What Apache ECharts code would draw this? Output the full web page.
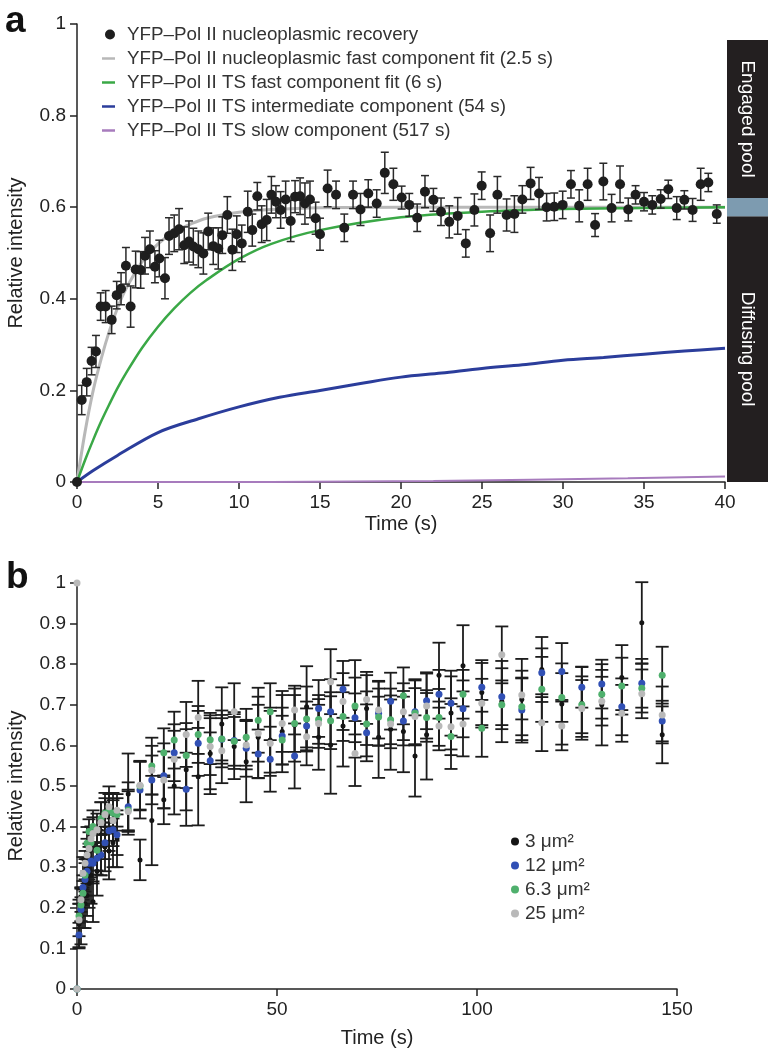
<!DOCTYPE html>
<html><head><meta charset="utf-8">
<script src="https://cdn.jsdelivr.net/npm/echarts@6/dist/echarts.min.js"></script>
<style>html,body{margin:0;padding:0;background:#fff}#c{width:770px;height:1050px}</style>
</head><body><div id="c"></div>
<script>
// ---------- Panel a data ----------
const aTime = [0, 0.29, 0.6, 0.9, 1.17, 1.46, 1.77, 2.14, 2.45, 2.72,
  3.02, 3.31, 3.62, 3.93, 4.2, 4.5, 4.81, 5.08, 5.43, 5.68,
  6.0, 6.3, 6.62, 6.91, 7.18, 7.49, 7.8, 8.1, 8.41, 8.72,
  8.97, 9.28, 9.59, 9.86, 10.17, 10.54, 10.82, 11.13, 11.4, 11.71,
  12.0, 12.28, 12.57, 12.88, 13.19, 13.46, 13.77, 14.07, 14.38, 14.73,
  15.0, 15.47, 15.99, 16.5, 17.04, 17.5, 17.98, 18.5, 19.0, 19.53,
  20.04, 20.51, 21.0, 21.48, 22.0, 22.47, 22.98, 23.5, 24.0, 24.53,
  24.98, 25.5, 25.95, 26.52, 27.0, 27.49, 28.0, 28.52, 28.99, 29.46,
  29.98, 30.49, 31.0, 31.52, 31.98, 32.49, 33.0, 33.52, 34.03, 34.48,
  35.0, 35.51, 36.03, 36.5, 37.02, 37.49, 38.0, 38.5, 38.97, 39.49];
const aValue = [0, 0.179, 0.218, 0.264, 0.285, 0.383, 0.383, 0.354, 0.408, 0.422,
  0.472, 0.383, 0.464, 0.463, 0.494, 0.508, 0.47, 0.488, 0.445, 0.537,
  0.543, 0.552, 0.517, 0.525, 0.514, 0.508, 0.499, 0.547, 0.515, 0.51,
  0.539, 0.583, 0.507, 0.541, 0.521, 0.59, 0.55, 0.624, 0.563, 0.572,
  0.627, 0.612, 0.594, 0.617, 0.57, 0.623, 0.624, 0.608, 0.617, 0.576,
  0.541, 0.641, 0.627, 0.555, 0.627, 0.595, 0.63, 0.608, 0.675, 0.65,
  0.621, 0.605, 0.577, 0.634, 0.616, 0.59, 0.568, 0.581, 0.521, 0.594,
  0.647, 0.543, 0.627, 0.583, 0.585, 0.617, 0.652, 0.63, 0.6, 0.601,
  0.605, 0.65, 0.603, 0.65, 0.561, 0.656, 0.598, 0.65, 0.595, 0.627,
  0.612, 0.605, 0.618, 0.639, 0.598, 0.616, 0.594, 0.65, 0.654, 0.585];
const aErr = [0, 0.032, 0.03, 0.03, 0.035, 0.03, 0.035, 0.03, 0.03, 0.035,
  0.04, 0.045, 0.04, 0.04, 0.04, 0.04, 0.035, 0.04, 0.045, 0.04,
  0.04, 0.045, 0.04, 0.045, 0.04, 0.04, 0.045, 0.04, 0.04, 0.045,
  0.04, 0.04, 0.045, 0.04, 0.04, 0.045, 0.035, 0.03, 0.04, 0.045,
  0.04, 0.035, 0.04, 0.04, 0.045, 0.035, 0.04, 0.045, 0.04, 0.035,
  0.035, 0.04, 0.03, 0.03, 0.03, 0.035, 0.03, 0.03, 0.045, 0.035,
  0.025, 0.025, 0.03, 0.035, 0.025, 0.03, 0.035, 0.04, 0.03, 0.035,
  0.03, 0.04, 0.04, 0.035, 0.04, 0.03, 0.035, 0.035, 0.03, 0.03,
  0.03, 0.03, 0.035, 0.035, 0.025, 0.04, 0.03, 0.04, 0.025, 0.02,
  0.02, 0.02, 0.02, 0.02, 0.025, 0.02, 0.025, 0.035, 0.02, 0.02];
const fitTime  = [0, 0.5, 1, 1.5, 2, 2.5, 3, 4, 5, 6, 7, 8, 10, 12, 15, 20, 25, 30, 35, 40];
const grayFit  = [0, 0.11, 0.2, 0.27, 0.33, 0.38, 0.42, 0.48, 0.52, 0.546, 0.563, 0.576, 0.589, 0.595, 0.599, 0.6, 0.6, 0.6, 0.6, 0.6];
const greenFit = [0, 0.048, 0.092, 0.133, 0.17, 0.205, 0.236, 0.292, 0.339, 0.379, 0.413, 0.441, 0.487, 0.52, 0.55, 0.578, 0.59, 0.596, 0.598, 0.6];
const blueTime = [0, 1, 2.5, 5, 7.5, 10, 12.5, 15, 17.5, 20, 22.5, 25, 27.5, 30, 32.5, 35, 37.5, 40];
const blueFit  = [0, 0.025, 0.058, 0.108, 0.138, 0.164, 0.185, 0.2, 0.215, 0.229, 0.238, 0.248, 0.256, 0.266, 0.272, 0.279, 0.286, 0.292];
const purpleTime = [0, 12, 22, 28, 34, 40];
const purpleFit  = [0, 0, 0.002, 0.005, 0.008, 0.012];
const aNames = ['YFP\u2013Pol II nucleoplasmic recovery',
  'YFP\u2013Pol II nucleoplasmic fast component fit (2.5 s)',
  'YFP\u2013Pol II TS fast component fit (6 s)',
  'YFP\u2013Pol II TS intermediate component (54 s)',
  'YFP\u2013Pol II TS slow component (517 s)'];
const poolNames  = ['Diffusing pool', '', 'Engaged pool'];
const poolBounds = [0, 0.58, 0.62, 0.965];

// ---------- Panel b data ----------
const bTime = [0, 0.5, 1, 1.5, 2, 2.5, 3, 3.5, 4, 5,
  6, 7, 8, 9, 10, 12.8, 15.75, 18.7, 21.7, 24.3,
  27.3, 30.3, 33.3, 36.2, 39.3, 42.3, 45.3, 48.3, 51.3, 54.4,
  57.4, 60.4, 63.4, 66.5, 69.5, 72.4, 75.4, 78.4, 81.6, 84.5,
  87.4, 90.5, 93.5, 96.5, 101.2, 106.2, 111.2, 116.2, 121.2, 126.2,
  131.2, 136.2, 141.2, 146.3];
const b3 = [0, 0.16, 0.18, 0.2, 0.21, 0.23, 0.26, 0.28, 0.215, 0.29,
  0.33, 0.35, 0.34, 0.36, 0.37, 0.48, 0.318, 0.415, 0.466, 0.5,
  0.54, 0.523, 0.58, 0.653, 0.597, 0.56, 0.62, 0.613, 0.634, 0.65,
  0.695, 0.62, 0.601, 0.648, 0.69, 0.691, 0.62, 0.64, 0.634, 0.574,
  0.626, 0.773, 0.68, 0.796, 0.73, 0.708, 0.713, 0.787, 0.702, 0.704,
  0.7, 0.767, 0.902, 0.626];
const b12 = [0, 0.133, 0.196, 0.25, 0.27, 0.29, 0.31, 0.315, 0.31, 0.322,
  0.33, 0.36, 0.39, 0.392, 0.38, 0.449, 0.49, 0.515, 0.525, 0.582,
  0.492, 0.605, 0.562, 0.615, 0.612, 0.593, 0.579, 0.566, 0.623, 0.574,
  0.648, 0.691, 0.683, 0.738, 0.668, 0.631, 0.679, 0.709, 0.66, 0.683,
  0.71, 0.726, 0.704, 0.69, 0.743, 0.72, 0.687, 0.779, 0.782, 0.743,
  0.751, 0.695, 0.753, 0.66];
const b63 = [0, 0.18, 0.207, 0.236, 0.28, 0.359, 0.388, 0.36, 0.4, 0.342,
  0.42, 0.433, 0.44, 0.433, 0.43, 0.441, 0.5, 0.549, 0.582, 0.613,
  0.575, 0.627, 0.614, 0.616, 0.61, 0.62, 0.662, 0.683, 0.613, 0.654,
  0.665, 0.664, 0.661, 0.671, 0.697, 0.653, 0.67, 0.663, 0.722, 0.68,
  0.669, 0.669, 0.622, 0.726, 0.642, 0.7, 0.695, 0.738, 0.718, 0.7,
  0.726, 0.746, 0.741, 0.773];
const b25 = [0, 0.17, 0.22, 0.285, 0.31, 0.33, 0.346, 0.37, 0.383, 0.392,
  0.41, 0.43, 0.449, 0.415, 0.44, 0.437, 0.502, 0.539, 0.515, 0.566,
  0.627, 0.669, 0.597, 0.587, 0.683, 0.601, 0.63, 0.605, 0.654, 0.687,
  0.621, 0.654, 0.757, 0.708, 0.58, 0.713, 0.687, 0.653, 0.683, 0.671,
  0.697, 0.648, 0.646, 0.653, 0.704, 0.823, 0.724, 0.656, 0.648, 0.691,
  0.709, 0.679, 0.727, 0.675];
const b25Prebleach = [0, 1.0];
const b3Err = [0, 0.06, 0.07, 0.05, 0.06, 0.05, 0.06, 0.07, 0.05, 0.06,
  0.05, 0.06, 0.07, 0.06, 0.07, 0.1, 0.05, 0.11, 0.06, 0.07,
  0.1, 0.12, 0.1, 0.09, 0.08, 0.1, 0.1, 0.08, 0.1, 0.09,
  0.1, 0.08, 0.12, 0.1, 0.12, 0.09, 0.1, 0.1, 0.1, 0.1,
  0.11, 0.08, 0.09, 0.1, 0.08, 0.1, 0.1, 0.08, 0.1, 0.09,
  0.1, 0.08, 0.1, 0.07];
const b12Err = [0, 0.03, 0.03, 0.03, 0.04, 0.03, 0.04, 0.04, 0.05, 0.04,
  0.05, 0.04, 0.05, 0.04, 0.05, 0.06, 0.07, 0.06, 0.08, 0.07,
  0.09, 0.08, 0.07, 0.06, 0.07, 0.07, 0.06, 0.08, 0.07, 0.08,
  0.06, 0.07, 0.08, 0.07, 0.06, 0.07, 0.08, 0.07, 0.06, 0.08,
  0.07, 0.06, 0.08, 0.07, 0.06, 0.07, 0.08, 0.06, 0.07, 0.05,
  0.06, 0.07, 0.06, 0.05];
const b63Err = [0, 0.03, 0.04, 0.03, 0.04, 0.04, 0.03, 0.04, 0.04, 0.05,
  0.04, 0.05, 0.04, 0.05, 0.04, 0.05, 0.06, 0.07, 0.06, 0.07,
  0.08, 0.07, 0.06, 0.07, 0.06, 0.07, 0.08, 0.07, 0.06, 0.07,
  0.08, 0.06, 0.07, 0.06, 0.07, 0.08, 0.07, 0.06, 0.07, 0.08,
  0.06, 0.07, 0.08, 0.06, 0.07, 0.06, 0.07, 0.08, 0.06, 0.07,
  0.06, 0.07, 0.06, 0.07];
const b25Err = [0, 0.04, 0.03, 0.04, 0.03, 0.04, 0.04, 0.03, 0.04, 0.04,
  0.05, 0.04, 0.05, 0.05, 0.04, 0.05, 0.06, 0.06, 0.07, 0.07,
  0.08, 0.09, 0.07, 0.08, 0.07, 0.06, 0.07, 0.08, 0.07, 0.06,
  0.07, 0.06, 0.08, 0.07, 0.08, 0.06, 0.07, 0.06, 0.07, 0.07,
  0.08, 0.06, 0.07, 0.08, 0.06, 0.07, 0.06, 0.07, 0.06, 0.07,
  0.06, 0.07, 0.06, 0.07];
const bNames = ['3 \u03bcm\u00b2', '12 \u03bcm\u00b2', '6.3 \u03bcm\u00b2', '25 \u03bcm\u00b2'];

// ---------- styles ----------
const FONT = 'Liberation Sans';
const INK = '#222';
const poolColors = ['#231f20', '#7d9bb0', '#231f20'];
const bColors = ['#151515', '#3150b5', '#4fb06d', '#b9b9b9'];

const zip = (xs, ys) => xs.map((x, i) => [x, ys[i]]);
const zip3 = (xs, ys, es) => xs.map((x, i) => [x, ys[i], es[i]]);

function errRender(cap, color, width) {
  return function (params, api) {
    const t = api.value(0), v = api.value(1), e = api.value(2);
    if (!e) return null;
    const hi = api.coord([t, v + e]), lo = api.coord([t, v - e]);
    const x = hi[0];
    const style = { stroke: color, lineWidth: width };
    return { type: 'group', children: [
      { type: 'line', shape: { x1: x, y1: hi[1], x2: x, y2: lo[1] }, style },
      { type: 'line', shape: { x1: x - cap / 2, y1: hi[1], x2: x + cap / 2, y2: hi[1] }, style },
      { type: 'line', shape: { x1: x - cap / 2, y1: lo[1], x2: x + cap / 2, y2: lo[1] }, style }
    ]};
  };
}

function poolRender(params, api) {
  const i = api.value(2);
  const lo = api.coord([0, api.value(0)]);
  const hi = api.coord([1, api.value(1)]);
  const children = [{ type: 'rect',
    shape: { x: lo[0], y: hi[1], width: hi[0] - lo[0], height: lo[1] - hi[1] },
    style: { fill: poolColors[i] } }];
  if (poolNames[i]) {
    children.push({ type: 'text', x: (lo[0] + hi[0]) / 2, y: (lo[1] + hi[1]) / 2,
      rotation: -Math.PI / 2,
      style: { text: poolNames[i], fill: '#fff', font: '19px "' + FONT + '"',
        align: 'center', verticalAlign: 'middle' } });
  }
  return { type: 'group', children };
}

const axisBase = {
  axisLine: { show: true, onZero: false, lineStyle: { color: INK, width: 1.5 } },
  axisTick: { show: true, inside: false, length: 7, lineStyle: { color: INK, width: 1.5 } },
  axisLabel: { color: INK, fontSize: 19, fontFamily: FONT, margin: 11 },
  splitLine: { show: false },
  nameLocation: 'middle',
  nameTextStyle: { color: INK, fontSize: 20, fontFamily: FONT }
};

const option = {
  animation: false,
  backgroundColor: '#fff',
  textStyle: { fontFamily: FONT },
  title: [
    { text: 'a', left: 0, top: -2, textStyle: { fontSize: 37, fontWeight: 'bold', color: '#111', fontFamily: FONT } },
    { text: 'b', left: 1, top: 554, textStyle: { fontSize: 37, fontWeight: 'bold', color: '#111', fontFamily: FONT } }
  ],
  grid: [
    { left: 77, top: 24, width: 648, height: 458, outerBoundsMode: 'none', containLabel: false },
    { left: 727, top: 24, width: 41, height: 458, outerBoundsMode: 'none', containLabel: false },
    { left: 77, top: 583, width: 600, height: 406, outerBoundsMode: 'none', containLabel: false }
  ],
  xAxis: [
    Object.assign({}, axisBase, { gridIndex: 0, type: 'value', min: 0, max: 40, interval: 5, name: 'Time (s)', nameGap: 32 }),
    { gridIndex: 1, type: 'value', min: 0, max: 1, show: false },
    Object.assign({}, axisBase, { gridIndex: 2, type: 'value', min: 0, max: 150, interval: 50, name: 'Time (s)', nameGap: 39 })
  ],
  yAxis: [
    Object.assign({}, axisBase, { gridIndex: 0, type: 'value', min: 0, max: 1, interval: 0.2, name: 'Relative intensity', nameGap: 51 }),
    { gridIndex: 1, type: 'value', min: 0, max: 1, show: false },
    Object.assign({}, axisBase, { gridIndex: 2, type: 'value', min: 0, max: 1, interval: 0.1, name: 'Relative intensity', nameGap: 51 })
  ],
  legend: [
    { data: [aNames[0]], left: 105, top: 25, orient: 'vertical', icon: 'circle',
      itemWidth: 10, itemHeight: 10, padding: 0,
      textStyle: { fontSize: 18.8, color: '#333', fontFamily: FONT, padding: [0, 0, 0, 7] } },
    { data: aNames.slice(1), left: 102, top: 49, orient: 'vertical', icon: 'rect',
      itemWidth: 13, itemHeight: 2.5, itemGap: 5, padding: 0,
      textStyle: { fontSize: 18.8, color: '#333', fontFamily: FONT, padding: [0, 0, 0, 7] } },
    { data: bNames, left: 511, top: 832, orient: 'vertical', icon: 'circle',
      itemWidth: 8, itemHeight: 8, itemGap: 5, padding: 0,
      textStyle: { fontSize: 19, color: '#333', fontFamily: FONT, padding: [0, 0, 0, 1] } }
  ],
  series: [
    { type: 'custom', xAxisIndex: 1, yAxisIndex: 1, silent: true, renderItem: poolRender,
      data: poolNames.map((n, i) => [poolBounds[i], poolBounds[i + 1], i]) },
    { type: 'line', name: aNames[1], xAxisIndex: 0, yAxisIndex: 0, data: zip(fitTime, grayFit),
      smooth: 0.35, showSymbol: false, clip: false, z: 1,
      lineStyle: { color: '#b8b8b8', width: 3 }, itemStyle: { color: '#b8b8b8' } },
    { type: 'line', name: aNames[2], xAxisIndex: 0, yAxisIndex: 0, data: zip(fitTime, greenFit),
      smooth: 0.35, showSymbol: false, clip: false, z: 1,
      lineStyle: { color: '#3aa846', width: 2.5 }, itemStyle: { color: '#3aa846' } },
    { type: 'line', name: aNames[3], xAxisIndex: 0, yAxisIndex: 0, data: zip(blueTime, blueFit),
      smooth: 0.35, showSymbol: false, clip: false, z: 1,
      lineStyle: { color: '#2b3d9b', width: 3 }, itemStyle: { color: '#2b3d9b' } },
    { type: 'line', name: aNames[4], xAxisIndex: 0, yAxisIndex: 0, data: zip(purpleTime, purpleFit),
      showSymbol: false, clip: false, z: 1,
      lineStyle: { color: '#a77bbd', width: 2 }, itemStyle: { color: '#a77bbd' } },
    { type: 'custom', name: 'aErr', xAxisIndex: 0, yAxisIndex: 0, silent: true, z: 2,
      renderItem: errRender(8, '#2a2a2a', 1.5), data: zip3(aTime, aValue, aErr), clip: false },
    { type: 'scatter', name: aNames[0], xAxisIndex: 0, yAxisIndex: 0, data: zip(aTime, aValue),
      symbolSize: 10, clip: false, z: 3, itemStyle: { color: '#1e1e1e', opacity: 1 } },
    { type: 'custom', name: 'e3', xAxisIndex: 2, yAxisIndex: 2, silent: true, z: 2, clip: false,
      renderItem: errRender(13, '#1c1c1c', 1.8), data: zip3(bTime, b3, b3Err) },
    { type: 'custom', name: 'e12', xAxisIndex: 2, yAxisIndex: 2, silent: true, z: 2, clip: false,
      renderItem: errRender(13, '#1c1c1c', 1.8), data: zip3(bTime, b12, b12Err) },
    { type: 'custom', name: 'e63', xAxisIndex: 2, yAxisIndex: 2, silent: true, z: 2, clip: false,
      renderItem: errRender(13, '#1c1c1c', 1.8), data: zip3(bTime, b63, b63Err) },
    { type: 'custom', name: 'e25', xAxisIndex: 2, yAxisIndex: 2, silent: true, z: 2, clip: false,
      renderItem: errRender(13, '#1c1c1c', 1.8), data: zip3(bTime, b25, b25Err) },
    { type: 'scatter', name: bNames[0], xAxisIndex: 2, yAxisIndex: 2, data: zip(bTime, b3),
      symbolSize: 5, clip: false, z: 3, itemStyle: { color: bColors[0], opacity: 1 } },
    { type: 'scatter', name: bNames[1], xAxisIndex: 2, yAxisIndex: 2, data: zip(bTime, b12),
      symbolSize: 7, clip: false, z: 3, itemStyle: { color: bColors[1], opacity: 1 } },
    { type: 'scatter', name: bNames[2], xAxisIndex: 2, yAxisIndex: 2, data: zip(bTime, b63),
      symbolSize: 7, clip: false, z: 3, itemStyle: { color: bColors[2], opacity: 1 } },
    { type: 'scatter', name: bNames[3], xAxisIndex: 2, yAxisIndex: 2, data: [b25Prebleach].concat(zip(bTime, b25)),
      symbolSize: 7, clip: false, z: 3, itemStyle: { color: bColors[3], opacity: 1 } }
  ]
};

const chart = echarts.init(document.getElementById('c'), null, { renderer: 'canvas' });
chart.setOption(option);
</script>
</body></html>
